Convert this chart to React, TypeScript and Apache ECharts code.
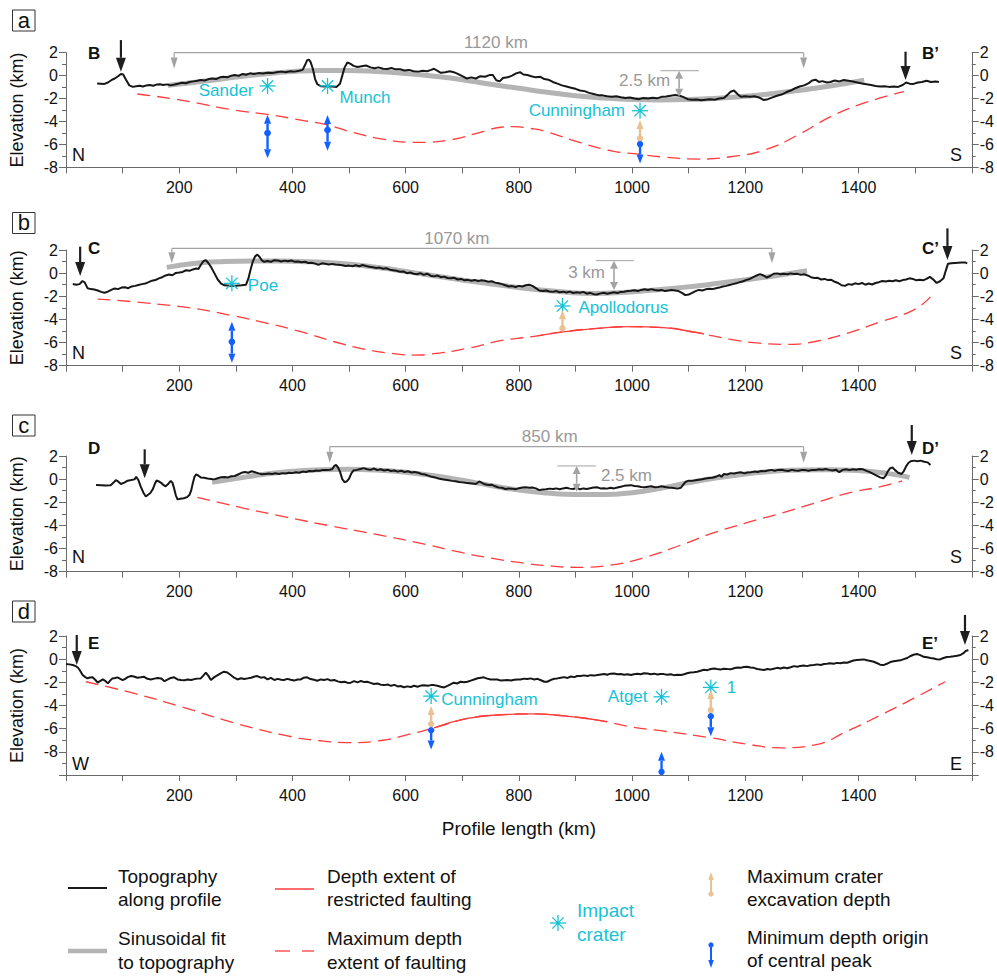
import React, { useEffect, useRef } from "react";
import * as echarts from "echarts";

type P = [number, number];
type Arrow = [number, number, number]; // [km, start elevation (dot), tip elevation]
type Crater = [number, number, string]; // [km, elevation, name]

// ---------------- DATA ----------------
const xMin = 0;
const xMax = 1600;
const xTickStep = 100;
const xLabelValues = [200, 400, 600, 800, 1000, 1200, 1400];
const yMaxAll = 2;
const yMins = [-8, -8, -8, -10];
const yLabelValues = [2, 0, -2, -4, -6, -8];
const panelLetters = ["a", "b", "c", "d"];
const profileEndNames: [string, string][] = [["B", "B\u2019"], ["C", "C\u2019"], ["D", "D\u2019"], ["E", "E\u2019"]];
const directionNames: [string, string][] = [["N", "S"], ["N", "S"], ["N", "S"], ["W", "E"]];

const topoA: P[] = [[55,-0.68],[62,-0.7],[68,-0.72],[74,-0.6],[80,-0.4],[86,-0.25],[92,-0.05],[97,0.15],[101,0.1],[106,-0.35],[112,-0.85],[118,-0.98],[124,-0.92],[130,-0.88],[136,-0.95],[142,-0.85],[148,-0.82],[154,-0.88],[160,-0.78],[166,-0.75],[172,-0.82],[178,-0.76],[185,-0.85],[192,-0.78],[198,-0.7],[205,-0.62],[212,-0.66],[218,-0.55],[225,-0.5],[232,-0.45],[238,-0.38],[245,-0.42],[252,-0.3],[258,-0.25],[265,-0.3],[272,-0.15],[278,-0.1],[285,-0.15],[292,0.0],[298,0.05],[305,-0.02],[312,0.15],[318,0.08],[325,0.2],[332,0.15],[340,0.22],[348,0.18],[356,0.26],[364,0.22],[372,0.3],[380,0.35],[388,0.3],[396,0.38],[404,0.35],[412,0.42],[418,0.5],[422,0.9],[426,1.35],[429,1.4],[432,1.2],[436,0.6],[440,-0.3],[444,-0.75],[450,-0.92],[460,-0.95],[470,-0.95],[478,-0.98],[484,-0.7],[488,0.0],[492,0.7],[497,1.15],[502,1.05],[508,0.85],[515,0.75],[522,0.82],[530,0.88],[538,0.72],[545,0.65],[552,0.72],[560,0.6],[568,0.58],[575,0.66],[582,0.55],[590,0.55],[598,0.45],[606,0.5],[614,0.38],[622,0.35],[630,0.42],[638,0.38],[645,0.5],[650,0.6],[655,0.45],[662,0.25],[670,0.3],[678,0.38],[685,0.3],[692,0.15],[700,-0.05],[708,-0.25],[716,-0.15],[724,-0.25],[732,-0.05],[740,-0.1],[748,0.05],[754,0.05],[760,-0.4],[766,-0.5],[772,-0.2],[780,-0.15],[788,0.0],[795,0.2],[802,0.3],[808,0.1],[815,0.05],[822,-0.05],[830,-0.15],[838,-0.1],[845,-0.3],[852,-0.35],[860,-0.55],[868,-0.7],[876,-0.85],[884,-0.95],[892,-1.05],[900,-1.15],[908,-1.3],[916,-1.35],[924,-1.5],[932,-1.6],[940,-1.7],[948,-1.72],[956,-1.8],[964,-1.85],[972,-1.8],[980,-1.88],[988,-1.95],[996,-1.9],[1004,-2.0],[1012,-2.05],[1020,-1.95],[1028,-2.0],[1036,-1.92],[1044,-1.98],[1052,-1.85],[1060,-1.82],[1068,-1.75],[1076,-1.68],[1084,-1.75],[1090,-1.85],[1098,-2.05],[1106,-2.1],[1114,-2.08],[1122,-2.15],[1130,-2.1],[1138,-2.05],[1146,-2.1],[1154,-2.0],[1162,-1.95],[1168,-1.7],[1174,-1.4],[1180,-1.3],[1186,-1.6],[1192,-1.85],[1200,-1.8],[1208,-1.85],[1216,-1.8],[1224,-1.9],[1232,-2.12],[1240,-2.05],[1248,-1.9],[1256,-1.75],[1264,-1.65],[1272,-1.45],[1280,-1.3],[1288,-1.1],[1296,-0.95],[1304,-0.85],[1312,-0.65],[1318,-0.42],[1324,-0.35],[1330,-0.55],[1336,-0.48],[1344,-0.6],[1350,-0.55],[1358,-0.42],[1366,-0.5],[1374,-0.38],[1382,-0.45],[1390,-0.52],[1398,-0.6],[1406,-0.68],[1414,-0.75],[1422,-0.82],[1430,-0.9],[1438,-0.95],[1446,-0.92],[1454,-0.98],[1462,-0.95],[1470,-0.98],[1478,-0.82],[1484,-0.6],[1490,-0.7],[1497,-0.72],[1505,-0.6],[1512,-0.55],[1520,-0.45],[1528,-0.55],[1536,-0.52],[1542,-0.56]];
const topoB: P[] = [[12,-0.94],[18,-1.0],[24,-0.95],[29,-0.68],[33,-0.8],[38,-1.3],[44,-1.38],[50,-1.42],[56,-1.5],[62,-1.62],[68,-1.7],[74,-1.6],[80,-1.45],[86,-1.32],[92,-1.38],[98,-1.25],[104,-1.22],[110,-1.3],[116,-1.15],[122,-1.1],[128,-1.02],[134,-0.95],[140,-0.9],[146,-0.78],[152,-0.65],[158,-0.6],[164,-0.45],[170,-0.35],[176,-0.2],[182,-0.12],[188,-0.18],[194,0.02],[200,0.05],[206,0.1],[212,0.25],[218,0.2],[224,0.32],[230,0.4],[234,0.35],[238,0.7],[243,1.05],[247,1.12],[251,0.9],[256,0.55],[262,0.0],[268,-0.55],[274,-0.9],[280,-1.05],[290,-1.08],[300,-1.1],[310,-1.05],[318,-1.0],[322,-0.5],[326,0.3],[330,1.0],[334,1.45],[338,1.6],[342,1.4],[346,1.1],[350,0.98],[356,1.05],[362,0.98],[368,1.12],[374,1.1],[380,1.0],[386,1.08],[392,1.02],[398,1.1],[404,0.98],[410,1.0],[416,0.95],[422,0.98],[428,0.88],[434,0.9],[440,0.82],[446,0.72],[452,0.85],[458,0.82],[464,0.75],[470,0.8],[476,0.75],[482,0.72],[488,0.68],[494,0.62],[500,0.65],[506,0.6],[512,0.68],[518,0.6],[524,0.7],[530,0.62],[536,0.55],[542,0.5],[548,0.45],[554,0.48],[560,0.38],[566,0.42],[572,0.3],[578,0.25],[584,0.2],[590,0.12],[596,0.15],[602,0.0],[608,0.05],[614,-0.05],[620,-0.1],[626,0.0],[632,-0.15],[638,-0.05],[644,-0.22],[650,-0.28],[656,-0.2],[662,-0.35],[668,-0.3],[674,-0.42],[680,-0.45],[686,-0.4],[692,-0.55],[698,-0.5],[704,-0.62],[710,-0.58],[716,-0.65],[722,-0.6],[728,-0.68],[734,-0.62],[740,-0.66],[746,-0.75],[752,-0.7],[758,-0.82],[764,-0.88],[770,-0.95],[776,-1.05],[782,-1.15],[788,-1.12],[794,-1.2],[800,-1.1],[806,-1.15],[812,-1.05],[818,-1.0],[824,-1.1],[830,-1.3],[836,-1.5],[842,-1.55],[848,-1.5],[854,-1.58],[860,-1.62],[866,-1.55],[872,-1.65],[878,-1.6],[884,-1.68],[890,-1.6],[896,-1.72],[902,-1.65],[908,-1.7],[914,-1.62],[920,-1.78],[926,-1.7],[932,-1.82],[938,-1.85],[944,-1.75],[950,-1.7],[956,-1.78],[962,-1.72],[968,-1.66],[974,-1.72],[980,-1.62],[986,-1.6],[992,-1.55],[998,-1.52],[1004,-1.48],[1010,-1.55],[1016,-1.45],[1022,-1.4],[1028,-1.45],[1034,-1.38],[1040,-1.45],[1046,-1.5],[1052,-1.45],[1058,-1.55],[1064,-1.5],[1070,-1.45],[1076,-1.5],[1082,-1.55],[1088,-1.7],[1094,-1.9],[1100,-1.85],[1106,-1.7],[1112,-1.55],[1118,-1.45],[1124,-1.5],[1130,-1.4],[1136,-1.35],[1142,-1.38],[1148,-1.3],[1154,-1.25],[1160,-1.15],[1166,-1.1],[1172,-1.02],[1178,-0.95],[1184,-0.88],[1190,-0.78],[1196,-0.7],[1202,-0.58],[1208,-0.5],[1214,-0.35],[1220,-0.2],[1226,-0.08],[1232,-0.2],[1238,-0.38],[1244,-0.25],[1250,-0.05],[1256,-0.02],[1262,-0.1],[1268,-0.05],[1274,-0.1],[1280,-0.02],[1286,-0.08],[1292,-0.06],[1298,-0.15],[1304,-0.1],[1310,-0.2],[1316,-0.35],[1322,-0.42],[1328,-0.4],[1334,-0.55],[1340,-0.5],[1346,-0.6],[1352,-0.58],[1358,-0.75],[1364,-0.85],[1370,-1.05],[1376,-1.1],[1382,-0.95],[1388,-1.0],[1394,-0.88],[1400,-0.95],[1406,-0.85],[1412,-1.0],[1418,-0.9],[1424,-0.98],[1430,-0.85],[1436,-0.78],[1442,-0.68],[1448,-0.72],[1454,-0.65],[1460,-0.7],[1466,-0.62],[1472,-0.7],[1478,-0.6],[1484,-0.55],[1490,-0.45],[1496,-0.5],[1502,-0.62],[1508,-0.58],[1514,-0.62],[1520,-0.5],[1526,-0.32],[1532,-0.55],[1538,-0.85],[1544,-0.7],[1550,-0.45],[1554,0.2],[1558,0.82],[1564,0.85],[1570,0.88],[1576,0.9],[1582,0.92],[1588,0.93],[1592,0.85]];
const topoC: P[] = [[53,-0.5],[62,-0.52],[70,-0.55],[79,-0.52],[84,-0.3],[88,-0.08],[92,-0.2],[97,-0.42],[103,-0.3],[109,-0.13],[115,-0.08],[121,-0.02],[124,0.2],[128,-0.1],[132,-0.65],[137,-1.2],[141,-1.5],[145,-1.35],[149,-1.2],[153,-0.9],[157,-0.4],[160,-0.12],[164,-0.2],[168,-0.32],[172,-0.5],[176,-0.62],[180,-0.45],[185,-0.15],[188,-0.3],[191,-0.8],[194,-1.4],[197,-1.75],[202,-1.7],[208,-1.65],[214,-1.55],[218,-1.38],[221,-1.0],[224,-0.35],[227,0.2],[230,0.42],[234,0.3],[238,0.15],[244,0.12],[250,0.06],[256,0.02],[262,-0.02],[268,0.08],[274,0.16],[280,0.18],[286,0.15],[292,0.25],[298,0.27],[304,0.4],[310,0.55],[316,0.62],[322,0.55],[328,0.68],[334,0.6],[340,0.5],[346,0.42],[352,0.45],[358,0.48],[364,0.45],[370,0.5],[376,0.45],[382,0.52],[388,0.48],[394,0.55],[400,0.52],[406,0.6],[412,0.55],[418,0.65],[424,0.62],[430,0.7],[436,0.68],[442,0.75],[448,0.72],[454,0.8],[460,0.78],[466,0.82],[470,0.85],[474,1.15],[477,1.22],[480,1.05],[484,0.65],[488,0.0],[492,-0.25],[496,-0.2],[500,0.05],[504,0.5],[508,0.75],[514,0.8],[520,0.88],[526,0.95],[532,0.85],[538,0.8],[544,0.92],[550,0.78],[556,0.85],[562,0.75],[568,0.82],[574,0.7],[580,0.75],[586,0.65],[592,0.72],[598,0.62],[604,0.68],[610,0.58],[616,0.62],[622,0.55],[628,0.45],[634,0.4],[640,0.3],[646,0.2],[652,0.15],[658,0.05],[664,0.0],[670,-0.05],[676,-0.1],[682,-0.15],[688,-0.18],[694,-0.25],[700,-0.28],[706,-0.32],[712,-0.35],[718,-0.38],[724,-0.42],[730,-0.2],[734,-0.3],[740,-0.45],[746,-0.5],[752,-0.48],[758,-0.62],[764,-0.72],[770,-0.75],[776,-0.85],[782,-0.8],[788,-0.82],[794,-0.88],[800,-0.78],[806,-0.72],[812,-0.7],[818,-0.75],[824,-0.72],[830,-0.8],[836,-0.95],[842,-0.9],[848,-0.88],[854,-0.82],[860,-0.85],[866,-0.8],[872,-0.88],[878,-0.8],[884,-0.75],[890,-0.82],[896,-0.85],[902,-0.75],[908,-0.88],[914,-0.8],[920,-0.85],[926,-0.78],[932,-0.72],[938,-0.7],[944,-0.8],[950,-0.78],[956,-0.82],[962,-0.75],[968,-0.8],[974,-0.72],[980,-0.65],[986,-0.58],[992,-0.55],[998,-0.52],[1004,-0.6],[1010,-0.62],[1016,-0.68],[1022,-0.7],[1028,-0.65],[1034,-0.62],[1040,-0.7],[1046,-0.68],[1052,-0.62],[1058,-0.68],[1064,-0.72],[1070,-0.75],[1076,-0.78],[1082,-0.8],[1086,-0.75],[1090,-0.5],[1094,-0.25],[1100,-0.13],[1106,-0.15],[1112,-0.1],[1118,-0.05],[1124,0.0],[1130,0.05],[1136,0.1],[1142,0.12],[1148,0.2],[1154,0.35],[1158,0.2],[1162,0.45],[1168,0.4],[1174,0.52],[1180,0.48],[1186,0.55],[1192,0.6],[1198,0.5],[1204,0.58],[1210,0.6],[1216,0.65],[1222,0.62],[1228,0.7],[1234,0.68],[1240,0.75],[1246,0.8],[1252,0.72],[1258,0.8],[1264,0.82],[1270,0.75],[1276,0.7],[1282,0.8],[1288,0.75],[1294,0.72],[1300,0.8],[1306,0.78],[1312,0.72],[1318,0.8],[1324,0.78],[1330,0.85],[1336,0.82],[1342,0.88],[1348,0.8],[1354,0.75],[1360,0.82],[1366,0.6],[1372,0.8],[1378,0.85],[1384,0.78],[1390,0.85],[1396,0.82],[1402,0.88],[1408,0.85],[1414,0.72],[1420,0.6],[1426,0.45],[1432,0.3],[1438,0.15],[1444,0.07],[1448,0.3],[1452,0.7],[1456,0.95],[1460,1.0],[1464,0.8],[1470,0.55],[1476,0.45],[1480,0.7],[1484,1.1],[1488,1.4],[1492,1.55],[1498,1.6],[1504,1.55],[1510,1.6],[1516,1.5],[1522,1.45],[1527,1.22]];
const topoD: P[] = [[0,-0.42],[6,-0.45],[12,-0.5],[17,-0.6],[21,-0.72],[25,-1.0],[29,-1.35],[34,-1.55],[38,-1.65],[42,-1.58],[47,-1.57],[52,-1.8],[56,-2.03],[60,-1.9],[65,-1.75],[70,-1.9],[74,-2.09],[78,-1.85],[82,-1.66],[87,-1.62],[91,-1.57],[96,-1.7],[100,-1.8],[104,-1.72],[109,-1.55],[115,-1.46],[120,-1.5],[126,-1.6],[132,-1.57],[138,-1.52],[144,-1.7],[150,-1.75],[156,-1.68],[162,-1.62],[168,-1.66],[174,-1.9],[180,-1.75],[185,-1.62],[191,-1.57],[197,-1.75],[203,-1.8],[209,-1.82],[215,-1.75],[221,-1.8],[227,-1.72],[232,-1.68],[238,-1.66],[243,-1.4],[247,-1.17],[251,-1.4],[256,-1.8],[262,-1.55],[268,-1.37],[274,-1.2],[279,-1.08],[285,-1.15],[291,-1.37],[297,-1.6],[303,-1.75],[309,-1.65],[315,-1.72],[321,-1.66],[327,-1.6],[333,-1.5],[338,-1.46],[344,-1.6],[350,-1.55],[356,-1.75],[362,-1.62],[368,-1.8],[374,-1.7],[380,-1.78],[385,-1.8],[391,-1.7],[397,-1.78],[403,-1.85],[409,-1.75],[415,-1.75],[420,-1.6],[426,-1.57],[432,-1.72],[438,-1.78],[444,-1.86],[450,-1.75],[456,-1.8],[462,-1.72],[468,-1.85],[474,-1.8],[480,-1.92],[486,-2.0],[492,-1.95],[498,-2.05],[503,-2.03],[509,-1.9],[515,-2.0],[521,-1.88],[527,-1.98],[532,-1.95],[538,-2.05],[544,-2.15],[550,-2.1],[556,-2.2],[562,-2.24],[568,-2.18],[574,-2.3],[580,-2.22],[586,-2.35],[591,-2.32],[597,-2.42],[603,-2.35],[609,-2.4],[615,-2.3],[621,-2.38],[627,-2.28],[633,-2.25],[639,-2.3],[645,-2.24],[650,-2.24],[656,-2.3],[662,-2.38],[668,-2.44],[674,-2.3],[680,-2.15],[685,-2.03],[691,-2.1],[697,-1.95],[703,-2.0],[709,-1.95],[715,-1.85],[721,-1.75],[727,-1.65],[733,-1.6],[738,-1.57],[744,-1.68],[750,-1.75],[756,-1.75],[762,-1.75],[768,-1.85],[774,-1.82],[780,-1.8],[786,-1.85],[792,-1.78],[798,-1.75],[803,-1.75],[809,-1.68],[815,-1.72],[821,-1.66],[827,-1.75],[833,-1.7],[839,-1.82],[845,-1.95],[850,-1.95],[856,-1.8],[862,-1.7],[868,-1.66],[874,-1.6],[880,-1.55],[886,-1.62],[892,-1.5],[898,-1.55],[903,-1.45],[909,-1.46],[915,-1.4],[921,-1.45],[927,-1.38],[933,-1.42],[939,-1.37],[945,-1.32],[951,-1.28],[956,-1.35],[962,-1.25],[968,-1.23],[974,-1.3],[980,-1.28],[986,-1.35],[992,-1.3],[998,-1.37],[1003,-1.3],[1009,-1.25],[1015,-1.3],[1021,-1.22],[1027,-1.23],[1033,-1.3],[1039,-1.25],[1045,-1.32],[1050,-1.28],[1056,-1.29],[1062,-1.35],[1068,-1.3],[1074,-1.38],[1080,-1.35],[1086,-1.37],[1092,-1.3],[1097,-1.22],[1103,-1.15],[1109,-1.12],[1115,-1.08],[1121,-1.0],[1127,-0.92],[1133,-0.95],[1139,-0.85],[1145,-0.8],[1150,-0.85],[1156,-0.9],[1162,-0.82],[1168,-0.85],[1174,-0.88],[1180,-0.78],[1186,-0.72],[1192,-0.75],[1197,-0.68],[1203,-0.65],[1209,-0.72],[1215,-0.75],[1221,-0.85],[1227,-0.9],[1233,-0.94],[1239,-0.85],[1244,-0.9],[1250,-0.82],[1256,-0.75],[1262,-0.8],[1268,-0.72],[1274,-0.78],[1280,-0.7],[1286,-0.6],[1292,-0.65],[1297,-0.58],[1303,-0.55],[1309,-0.6],[1315,-0.52],[1321,-0.51],[1327,-0.45],[1333,-0.5],[1339,-0.42],[1344,-0.4],[1350,-0.36],[1356,-0.4],[1362,-0.32],[1368,-0.35],[1374,-0.28],[1380,-0.31],[1386,-0.2],[1391,-0.12],[1397,-0.08],[1403,-0.05],[1409,-0.02],[1415,-0.1],[1421,-0.15],[1427,-0.22],[1433,-0.35],[1438,-0.48],[1444,-0.51],[1450,-0.4],[1456,-0.25],[1462,-0.18],[1468,-0.13],[1474,-0.1],[1480,0.0],[1486,0.1],[1491,0.25],[1497,0.38],[1503,0.44],[1509,0.35],[1515,0.2],[1521,0.16],[1527,0.1],[1533,0.05],[1538,0.0],[1544,-0.02],[1550,0.1],[1556,0.18],[1562,0.21],[1568,0.25],[1574,0.3],[1580,0.36],[1586,0.55],[1590,0.72],[1594,0.79]];

const fitA: P[] = [[180,-0.85],[250,-0.45],[300,-0.12],[350,0.15],[400,0.35],[450,0.45],[500,0.45],[550,0.35],[600,0.18],[650,-0.05],[700,-0.35],[750,-0.75],[800,-1.1],[850,-1.45],[900,-1.75],[950,-1.95],[1000,-2.08],[1050,-2.12],[1100,-2.08],[1150,-1.97],[1200,-1.8],[1250,-1.55],[1300,-1.25],[1350,-0.9],[1410,-0.4]];
const fitB: P[] = [[178,0.5],[230,0.85],[280,1.0],[330,1.05],[380,1.05],[430,0.98],[480,0.85],[530,0.62],[580,0.3],[630,-0.08],[680,-0.45],[730,-0.8],[780,-1.12],[830,-1.42],[880,-1.64],[930,-1.75],[980,-1.68],[1030,-1.5],[1080,-1.28],[1130,-1.02],[1180,-0.7],[1230,-0.38],[1270,-0.1],[1309,0.2]];
const fitC: P[] = [[258,-0.28],[300,0.05],[350,0.42],[400,0.68],[450,0.82],[500,0.85],[550,0.78],[600,0.6],[650,0.3],[700,-0.1],[750,-0.55],[800,-0.95],[850,-1.2],[900,-1.33],[950,-1.33],[1000,-1.17],[1050,-0.8],[1100,-0.3],[1150,0.12],[1200,0.45],[1250,0.68],[1300,0.8],[1350,0.82],[1400,0.75],[1450,0.5],[1490,0.15]];
const fitD: P[] = [];

const maxDepthA: P[] = [[126,-1.6],[203,-2.13],[297,-3.0],[356,-3.38],[415,-3.87],[462,-4.3],[503,-4.9],[562,-5.56],[621,-5.82],[679,-5.6],[738,-4.85],[768,-4.5],[790,-4.45],[820,-4.6],[850,-4.9],[909,-5.85],[968,-6.6],[1003,-6.8],[1056,-7.1],[1115,-7.27],[1174,-7.07],[1233,-6.5],[1292,-5.2],[1350,-3.6],[1409,-2.4],[1480,-1.4]];
const maxDepthB: P[] = [[56,-2.24],[203,-2.9],[297,-3.7],[356,-4.34],[415,-5.06],[474,-5.93],[532,-6.62],[586,-7.0],[615,-7.08],[644,-7.0],[709,-6.5],[768,-5.84],[821,-5.5],[880,-5.06],[939,-4.77],[998,-4.63],[1056,-4.71],[1115,-5.15],[1174,-5.72],[1230,-6.07],[1275,-6.15],[1321,-5.93],[1380,-5.2],[1439,-4.2],[1497,-3.19],[1527,-2.05]];
const maxDepthC: P[] = [[232,-1.57],[315,-2.52],[391,-3.3],[468,-4.05],[544,-4.74],[621,-5.49],[700,-6.36],[756,-6.87],[800,-7.2],[850,-7.48],[905,-7.62],[960,-7.45],[1027,-6.7],[1086,-5.7],[1145,-4.63],[1203,-3.76],[1262,-2.96],[1321,-2.09],[1380,-1.23],[1439,-0.65],[1477,-0.16]];
const maxDepthD: P[] = [[35,-1.95],[121,-2.96],[203,-4.1],[297,-5.5],[385,-6.56],[445,-7.02],[503,-7.2],[560,-7.0],[605,-6.5],[650,-5.93],[709,-5.12],[768,-4.8],[821,-4.72],[880,-4.9],[939,-5.26],[998,-5.84],[1056,-6.21],[1139,-6.79],[1203,-7.34],[1262,-7.65],[1321,-7.42],[1380,-6.21],[1439,-4.83],[1497,-3.39],[1553,-1.95]];

const restrictedA: P[] = [];
const restrictedB: P[] = [[833,-5.42],[880,-5.06],[939,-4.77],[998,-4.63],[1056,-4.71],[1115,-5.15],[1127,-5.26]];
const restrictedC: P[] = [];
const restrictedD: P[] = [[650,-5.93],[709,-5.12],[768,-4.8],[821,-4.72],[880,-4.9],[939,-5.26],[956,-5.4]];

const cratersA: Crater[] = [[356,-0.9,"Sander"],[462,-0.9,"Munch"],[1014,-3.06,"Cunningham"]];
const cratersB: Crater[] = [[293,-0.88,"Poe"],[877,-2.84,"Apollodorus"]];
const cratersC: Crater[] = [];
const cratersD: Crater[] = [[645,-3.19,"Cunningham"],[1052,-3.25,"Atget"],[1139,-2.44,"1"]];

const excavationA: Arrow[] = [[1014,-5.47,-3.87]];
const excavationB: Arrow[] = [[877,-4.77,-3.2]];
const excavationC: Arrow[] = [];
const excavationD: Arrow[] = [[645,-5.6,-4.05],[1139,-4.4,-2.67]];

const peakOriginA: Arrow[] = [[356,-5.0,-3.4],[356,-5.0,-7.2],[462,-4.74,-3.44],[462,-4.74,-6.55],[1014,-5.97,-7.65]];
const peakOriginB: Arrow[] = [[293,-5.93,-4.2],[293,-5.93,-7.74]];
const peakOriginC: Arrow[] = [];
const peakOriginD: Arrow[] = [[645,-6.13,-7.8],[1139,-4.92,-6.65],[1052,-9.73,-8.0]];

// profile end markers [km, arrow top elevation, arrow tip elevation]
const endMarksA: Arrow[] = [[97,3.1,0.34],[1483,2.09,-0.38]];
const endMarksB: Arrow[] = [[25,2.29,-0.25],[1557,3.87,1.14]];
const endMarksC: Arrow[] = [[139,2.58,0.07],[1494,4.68,2.09]];
const endMarksD: Arrow[] = [[19,2.09,-0.51],[1588,3.82,1.22]];

// half-wavelength spans [from km, to km, bar elevation, arrow tip elevation]
const spanA = [191, 1303, 2.0, 0.63];
const spanB = [187, 1247, 2.14, 0.85];
const spanC = [466, 1303, 2.81, 1.42];
const spanLabels = ["1120 km", "1070 km", "850 km", ""];
// amplitude markers [bar from km, bar to km, top elevation, arrow km, bottom elevation]
const ampA = [1050, 1118, 0.43, 1083, -1.84];
const ampB = [936, 1003, 1.08, 968, -1.46];
const ampC = [868, 936, 1.14, 902, -1.08];
const ampLabels = ["2.5 km", "3 km", "2.5 km", ""];

// ---------------- LAYOUT / STYLE ----------------
const FONT = '"Liberation Sans", Arial, Helvetica, sans-serif';
const CYAN = "#17c2d6";
const BLUE = "#1160ff";
const TAN = "#e9c193";
const RED = "#ff3c3c";
const GRAYFIT = "#b4b4b4";
const GRAYANN = "#a3a3a3";
const AXIS = "#6a6a6a";

const gridLeft = 65;
const gridWidth = 909;
const gridTops = [52.7, 250, 456, 636];
const gridHeights = [114.7, 115.7, 115.7, 139];
const letterBoxTops = [10, 212.5, 415, 601];
const endNameY = [53, 248, 448, 643];
const dirY = [155, 353, 557, 764];
const craterLabelPlace: [number, number, string][][] = [
  [[-14, 5, "right"], [12, 12, "left"], [-15, 0, "right"]],
  [[16, 2, "left"], [16, 2, "left"]],
  [],
  [[10, 3, "left"], [-14, 0, "right"], [16, 0, "left"]],
];
const spanLabelDx = [7, -15, -17, 0];
const ampSide = ["left", "left", "right", "left"];

const panels = [
  { topo: topoA, fit: fitA, depth: maxDepthA, restricted: restrictedA, craters: cratersA, exc: excavationA, peak: peakOriginA, ends: endMarksA, span: spanA, amp: ampA },
  { topo: topoB, fit: fitB, depth: maxDepthB, restricted: restrictedB, craters: cratersB, exc: excavationB, peak: peakOriginB, ends: endMarksB, span: spanB, amp: ampB },
  { topo: topoC, fit: fitC, depth: maxDepthC, restricted: restrictedC, craters: cratersC, exc: excavationC, peak: peakOriginC, ends: endMarksC, span: spanC, amp: ampC },
  { topo: topoD, fit: fitD, depth: maxDepthD, restricted: restrictedD, craters: cratersD, exc: excavationD, peak: peakOriginD, ends: endMarksD, span: null as any, amp: null as any },
];

function txt(x: number, y: number, text: string, size: number, fill: string, align = "left", vAlign = "middle", weight = "normal"): any {
  return {
    type: "text", x, y,
    style: { text, fill, fontSize: size, fontFamily: FONT, fontWeight: weight, textAlign: align, textVerticalAlign: vAlign, align, verticalAlign: vAlign },
  };
}

function arrowEls(x: number, y0: number, y1: number, color: string, lw: number, hw: number, hl: number, dotR: number): any[] {
  const dir = y1 > y0 ? 1 : -1;
  const base = y1 - dir * hl;
  const els: any[] = [
    { type: "line", shape: { x1: x, y1: y0, x2: x, y2: base }, style: { stroke: color, lineWidth: lw } },
    { type: "polygon", shape: { points: [[x, y1], [x - hw / 2, base], [x + hw / 2, base]] }, style: { fill: color } },
  ];
  if (dotR > 0) els.push({ type: "circle", shape: { cx: x, cy: y0, r: dotR }, style: { fill: color } });
  return els;
}

function asteriskEls(cx: number, cy: number, r: number, lw: number): any[] {
  const els: any[] = [];
  for (let k = 0; k < 4; k++) {
    const a = (k * Math.PI) / 4;
    const dx = Math.cos(a) * r, dy = Math.sin(a) * r;
    els.push({ type: "line", shape: { x1: cx - dx, y1: cy - dy, x2: cx + dx, y2: cy + dy }, style: { stroke: CYAN, lineWidth: lw } });
  }
  els.push({ type: "circle", shape: { cx, cy, r: 1.6 }, style: { fill: CYAN } });
  return els;
}

type Item = { kind: string; idx: number; x: number; y: number };

function buildItems(pi: number): Item[] {
  const p = panels[pi];
  const items: Item[] = [];
  p.craters.forEach((c, i) => items.push({ kind: "crater", idx: i, x: c[0], y: c[1] }));
  p.exc.forEach((a, i) => items.push({ kind: "exc", idx: i, x: a[0], y: a[1] }));
  p.peak.forEach((a, i) => items.push({ kind: "peak", idx: i, x: a[0], y: a[1] }));
  p.ends.forEach((a, i) => items.push({ kind: "end", idx: i, x: a[0], y: a[2] }));
  if (p.span) items.push({ kind: "span", idx: 0, x: p.span[0], y: p.span[2] });
  if (p.amp) items.push({ kind: "amp", idx: 0, x: p.amp[3], y: p.amp[2] });
  return items;
}

function makeRender(pi: number, items: Item[]) {
  const p = panels[pi];
  return (params: any, api: any) => {
    const it = items[params.dataIndex];
    const c = (x: number, y: number) => api.coord([x, y]);
    let children: any[] = [];
    if (it.kind === "crater") {
      const cr = p.craters[it.idx];
      const pt = c(cr[0], cr[1]);
      const pl = craterLabelPlace[pi][it.idx];
      children = asteriskEls(pt[0], pt[1], 8, 1.3);
      children.push(txt(pt[0] + pl[0], pt[1] + pl[1], cr[2], 17, CYAN, pl[2], "middle"));
    } else if (it.kind === "exc" || it.kind === "peak") {
      const a = (it.kind === "exc" ? p.exc : p.peak)[it.idx];
      const p0 = c(a[0], a[1]);
      const p1 = c(a[0], a[2]);
      children = arrowEls(p0[0], p0[1], p1[1], it.kind === "exc" ? TAN : BLUE, 2.4, 7, 9, 3.2);
    } else if (it.kind === "end") {
      const a = p.ends[it.idx];
      const p0 = c(a[0], a[1]);
      const p1 = c(a[0], a[2]);
      children = arrowEls(p0[0], p0[1], p1[1], "#1e1e1e", 2.2, 10, 14, 0);
    } else if (it.kind === "span") {
      const s = p.span;
      const a = c(s[0], s[2]);
      const b = c(s[1], s[2]);
      const tipY = c(s[0], s[3])[1];
      children = [
        { type: "line", shape: { x1: a[0], y1: a[1], x2: b[0], y2: b[1] }, style: { stroke: GRAYANN, lineWidth: 1.2 } },
        ...arrowEls(a[0], a[1], tipY, GRAYANN, 1.2, 7, 11, 0),
        ...arrowEls(b[0], b[1], tipY, GRAYANN, 1.2, 7, 11, 0),
        txt((a[0] + b[0]) / 2 + spanLabelDx[pi], a[1] - 10, spanLabels[pi], 17, "#999999", "center", "middle"),
      ];
    } else if (it.kind === "amp") {
      const m = p.amp;
      const l = c(m[0], m[2]);
      const r = c(m[1], m[2]);
      const top = c(m[3], m[2]);
      const bot = c(m[3], m[4]);
      const mid = (top[1] + bot[1]) / 2;
      const hl = 8;
      children = [
        { type: "line", shape: { x1: l[0], y1: l[1], x2: r[0], y2: r[1] }, style: { stroke: GRAYANN, lineWidth: 1 } },
        { type: "line", shape: { x1: top[0], y1: top[1] + hl, x2: bot[0], y2: bot[1] - hl }, style: { stroke: GRAYANN, lineWidth: 1.6 } },
        { type: "polygon", shape: { points: [[top[0], top[1]], [top[0] - 4, top[1] + hl], [top[0] + 4, top[1] + hl]] }, style: { fill: GRAYANN } },
        { type: "polygon", shape: { points: [[bot[0], bot[1]], [bot[0] - 4, bot[1] - hl], [bot[0] + 4, bot[1] - hl]] }, style: { fill: GRAYANN } },
        ampSide[pi] === "left"
          ? txt(top[0] - 9, mid - 3, ampLabels[pi], 17, "#999999", "right", "middle")
          : txt(r[0] + 5, mid - 3, ampLabels[pi], 17, "#999999", "left", "middle"),
      ];
    }
    return { type: "group", children };
  };
}

function buildOption(): any {
  const grid: any[] = [];
  const xAxis: any[] = [];
  const yAxis: any[] = [];
  const series: any[] = [];
  const graphic: any[] = [];
  const axisLine = { show: true, onZero: false, lineStyle: { color: AXIS, width: 1 } };
  const tickStyle = { color: AXIS, width: 1 };

  panels.forEach((p, i) => {
    grid.push({ left: gridLeft, top: gridTops[i], width: gridWidth, height: gridHeights[i], containLabel: false });
    xAxis.push({
      gridIndex: i, type: "value", min: xMin, max: xMax, interval: xTickStep,
      axisLine, axisTick: { show: true, length: 6, lineStyle: tickStyle },
      splitLine: { show: false },
      axisLabel: {
        margin: 12, color: "#111", fontSize: 16, fontFamily: FONT,
        formatter: (v: number) => (xLabelValues.indexOf(v) >= 0 ? String(v) : ""),
      },
      name: i === 3 ? "Profile length (km)" : "",
      nameLocation: "middle", nameGap: 44,
      nameTextStyle: { color: "#111", fontSize: 19, fontFamily: FONT },
    });
    const yCommon = {
      gridIndex: i, type: "value", min: yMins[i], max: yMaxAll, interval: 2,
      axisLine, axisTick: { show: true, length: 7, lineStyle: tickStyle },
      minorTick: { show: true, splitNumber: 2, length: 4, lineStyle: tickStyle },
      splitLine: { show: false }, minorSplitLine: { show: false },
      axisLabel: {
        margin: 8, color: "#111", fontSize: 16, fontFamily: FONT,
        formatter: (v: number) => (yLabelValues.indexOf(v) >= 0 ? String(v) : ""),
      },
    };
    yAxis.push({
      ...yCommon, position: "left",
      name: "Elevation (km)", nameLocation: "middle", nameGap: 40, nameRotate: 90,
      nameTextStyle: { color: "#111", fontSize: 18, fontFamily: FONT },
    });
    yAxis.push({ ...yCommon, position: "right" });

    const yi = i * 2;
    if (p.fit.length) {
      series.push({
        type: "line", xAxisIndex: i, yAxisIndex: yi, data: p.fit, smooth: 0.5, showSymbol: false, symbol: "none",
        lineStyle: { color: GRAYFIT, width: 5 }, z: 1, silent: true,
      });
    }
    series.push({
      type: "line", xAxisIndex: i, yAxisIndex: yi, data: p.depth, smooth: 0.5, showSymbol: false, symbol: "none",
      lineStyle: { color: RED, width: 1.3, type: [13, 7] }, z: 2, silent: true,
    });
    if (p.restricted.length) {
      series.push({
        type: "line", xAxisIndex: i, yAxisIndex: yi, data: p.restricted, smooth: 0.5, showSymbol: false, symbol: "none",
        lineStyle: { color: RED, width: 1.3 }, z: 2, silent: true,
      });
    }
    series.push({
      type: "line", xAxisIndex: i, yAxisIndex: yi, data: p.topo, showSymbol: false, symbol: "none",
      lineStyle: { color: "#161616", width: 2 }, z: 3, silent: true,
    });
    const items = buildItems(i);
    series.push({
      type: "custom", xAxisIndex: i, yAxisIndex: yi, clip: false, z: 5, silent: true,
      renderItem: makeRender(i, items),
      data: items.map((it) => [it.x, it.y]),
      encode: { x: 0, y: 1 },
    });

    // panel letter box
    graphic.push({ type: "rect", shape: { x: 12.5, y: letterBoxTops[i], width: 22.5, height: 21 }, style: { fill: "#fff", stroke: "#333", lineWidth: 1 } });
    graphic.push(txt(23.75, letterBoxTops[i] + 10, panelLetters[i], 22, "#111", "center", "middle"));
    // profile end names
    graphic.push(txt(88, endNameY[i], profileEndNames[i][0], 17, "#111", "left", "middle", "bold"));
    graphic.push(txt(922, endNameY[i], profileEndNames[i][1], 17, "#111", "left", "middle", "bold"));
    // direction letters
    graphic.push(txt(72, dirY[i], directionNames[i][0], 18, "#111", "left", "middle"));
    graphic.push(txt(950, dirY[i], directionNames[i][1], 18, "#111", "left", "middle"));
  });

  // ----- legend -----
  const LF = 19;
  const lg: any[] = [];
  lg.push({ type: "line", shape: { x1: 68, y1: 888, x2: 107, y2: 888 }, style: { stroke: "#1a1a1a", lineWidth: 2 } });
  lg.push(txt(118, 876, "Topography", LF, "#111"));
  lg.push(txt(118, 899, "along profile", LF, "#111"));
  lg.push({ type: "line", shape: { x1: 68, y1: 951, x2: 107, y2: 951 }, style: { stroke: GRAYFIT, lineWidth: 4.5 } });
  lg.push(txt(118, 938, "Sinusoidal fit", LF, "#111"));
  lg.push(txt(118, 962, "to topography", LF, "#111"));
  lg.push({ type: "line", shape: { x1: 275, y1: 889, x2: 314, y2: 889 }, style: { stroke: RED, lineWidth: 1.3 } });
  lg.push(txt(327, 876, "Depth extent of", LF, "#111"));
  lg.push(txt(327, 899, "restricted faulting", LF, "#111"));
  lg.push({ type: "line", shape: { x1: 275, y1: 951, x2: 290, y2: 951 }, style: { stroke: RED, lineWidth: 1.3 } });
  lg.push({ type: "line", shape: { x1: 302, y1: 951, x2: 314, y2: 951 }, style: { stroke: RED, lineWidth: 1.3 } });
  lg.push(txt(327, 938, "Maximum depth", LF, "#111"));
  lg.push(txt(327, 962, "extent of faulting", LF, "#111"));
  asteriskEls(558, 923, 8, 1.3).forEach((e) => lg.push(e));
  lg.push(txt(577, 910, "Impact", LF, CYAN));
  lg.push(txt(577, 934, "crater", LF, CYAN));
  arrowEls(711, 894, 872, TAN, 2, 5.5, 8, 2.6).forEach((e) => lg.push(e));
  lg.push(txt(747, 876, "Maximum crater", LF, "#111"));
  lg.push(txt(747, 899, "excavation depth", LF, "#111"));
  arrowEls(711, 945, 968, BLUE, 2, 5.5, 8, 2.6).forEach((e) => lg.push(e));
  lg.push(txt(747, 937, "Minimum depth origin", LF, "#111"));
  lg.push(txt(747, 960, "of central peak", LF, "#111"));
  graphic.push(...lg);

  return {
    animation: false,
    backgroundColor: "#ffffff",
    textStyle: { fontFamily: FONT },
    grid, xAxis, yAxis, series, graphic,
  };
}

export default function App() {
  const ref = useRef<HTMLDivElement>(null);
  useEffect(() => {
    if (!ref.current) return;
    const chart = echarts.init(ref.current, undefined, { renderer: "svg" });
    chart.setOption(buildOption());
    return () => chart.dispose();
  }, []);
  return <div ref={ref} style={{ position: "absolute", left: 0, top: 0, width: 997, height: 976 }} />;
}
